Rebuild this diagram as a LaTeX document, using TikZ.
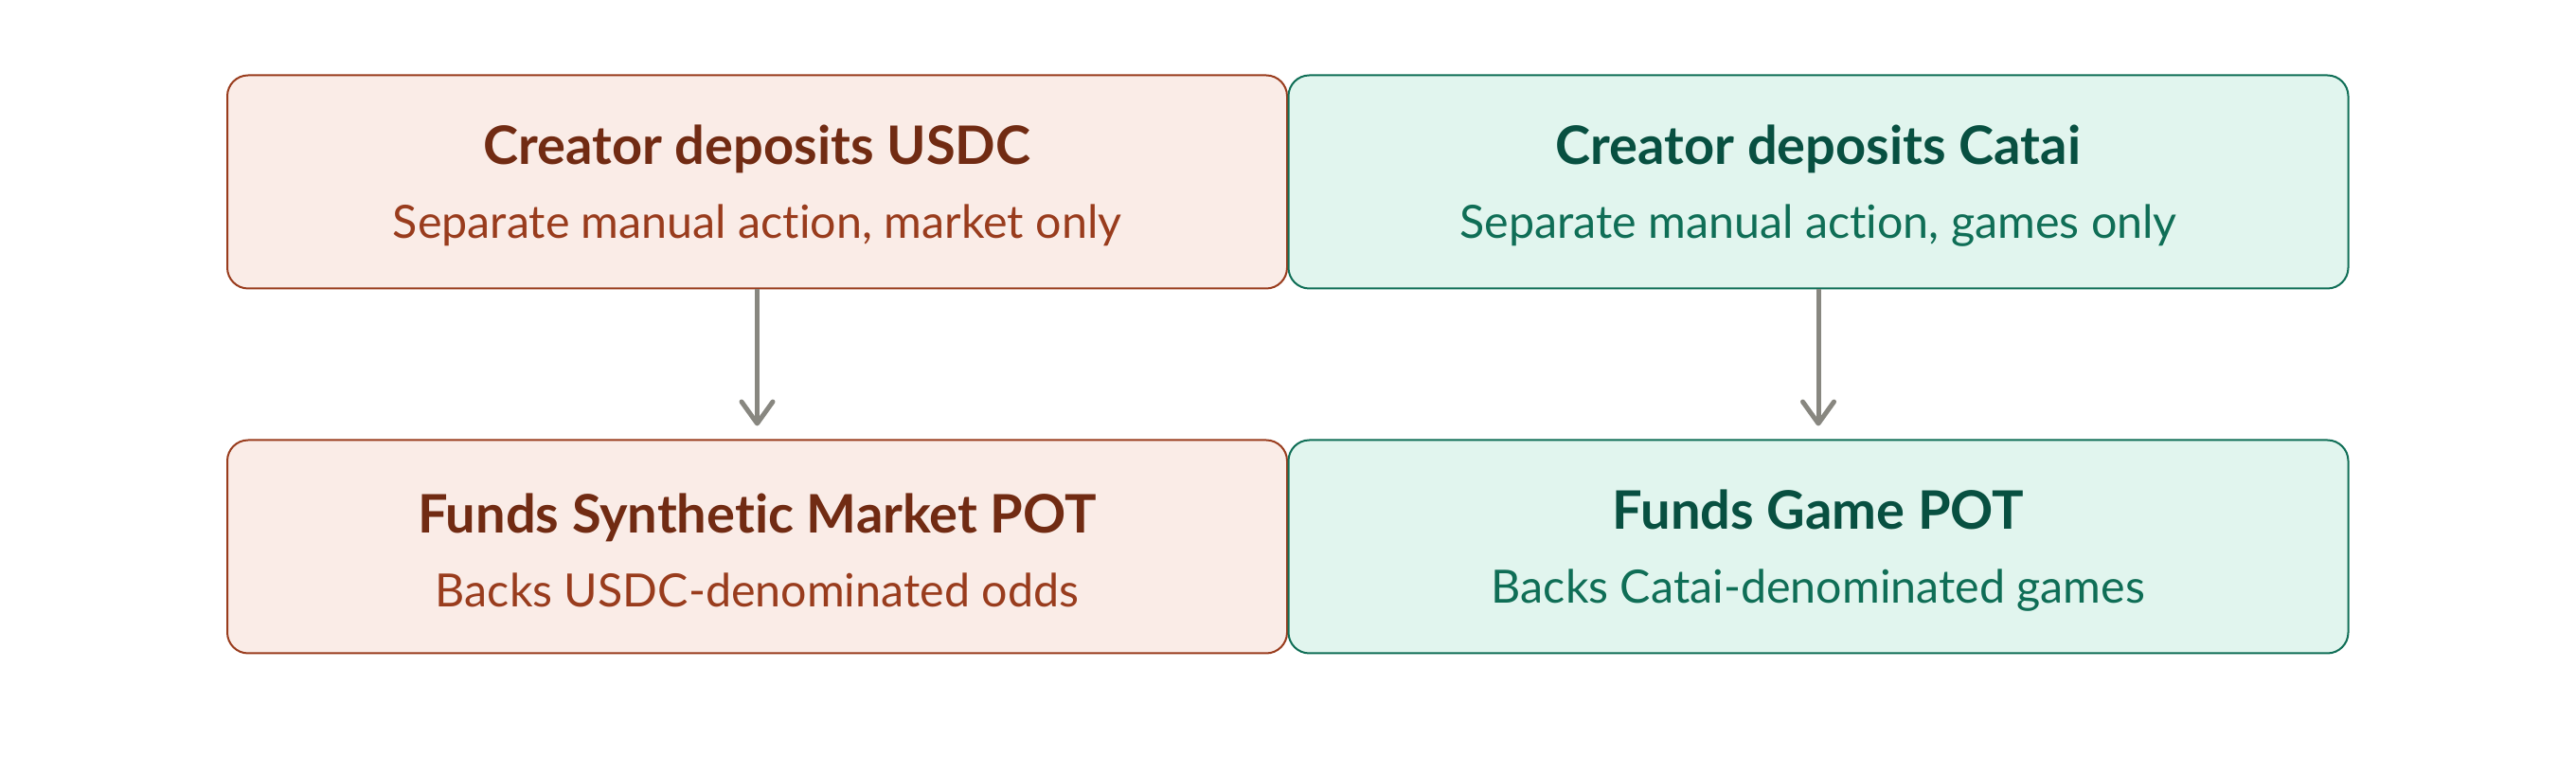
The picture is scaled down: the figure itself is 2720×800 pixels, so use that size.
\documentclass[tikz,border=0pt]{standalone}
\usepackage{fontspec}
\setmainfont{Lato}[Ligatures={NoCommon}]
\usepackage{tikz}
\usetikzlibrary{arrows.meta, positioning}

\definecolor{coralfill}{HTML}{FAECE7}
\definecolor{coraledge}{HTML}{993C1D}
\definecolor{coraltitle}{HTML}{712B13}
\definecolor{tealfill}{HTML}{E1F5EE}
\definecolor{tealedge}{HTML}{0F6E56}
\definecolor{tealtitle}{HTML}{085041}
\definecolor{flowgray}{HTML}{888780}

\newcommand{\titlef}{\fontsize{14}{18}\selectfont\bfseries\rule{0pt}{12.4pt}}
\newcommand{\subf}{\fontsize{12.1}{14.5}\selectfont}

\tikzset{
  potbox/.style={draw, rounded corners=5.5pt, line width=0.5pt,
    minimum width=279.75pt, minimum height=56.25pt, align=center, inner sep=0pt},
  coralbox/.style={potbox, draw=coraledge, fill=coralfill, text=coraledge},
  tealbox/.style={potbox, draw=tealedge, fill=tealfill, text=tealedge},
  flow/.style={draw=flowgray, line width=1.25pt, shorten >=3.5pt,
    -{Straight Barb[length=5.75pt, width=8.25pt, line cap=round, line join=round]}}
}

\begin{document}
\begin{tikzpicture}[x=0.25pt, y=-0.25pt]
  \useasboundingbox (0,0) rectangle (2720,800);

  % deposits
  \node[coralbox] (usdc) at (799.5,192)
    {{\titlef\color{coraltitle}Creator deposits USDC}\\[7.4pt]\subf Separate manual action, market only};
  \node[tealbox] (catai) at (1920,192)
    {{\titlef\color{tealtitle}Creator deposits Catai}\\[7.4pt]\subf Separate manual action, games only};

  % pots
  \node[coralbox] (marketpot) at (799.5,577)
    {{\titlef\color{coraltitle}Funds Synthetic Market POT}\\[7.4pt]\subf Backs USDC-denominated odds};
  \node[tealbox] (gamepot) at (1920,577)
    {{\titlef\color{tealtitle}Funds Game POT}\\[7.4pt]\subf Backs Catai-denominated games};

  \draw[flow] (usdc) -- (marketpot);
  \draw[flow] (catai) -- (gamepot);
\end{tikzpicture}
\end{document}
